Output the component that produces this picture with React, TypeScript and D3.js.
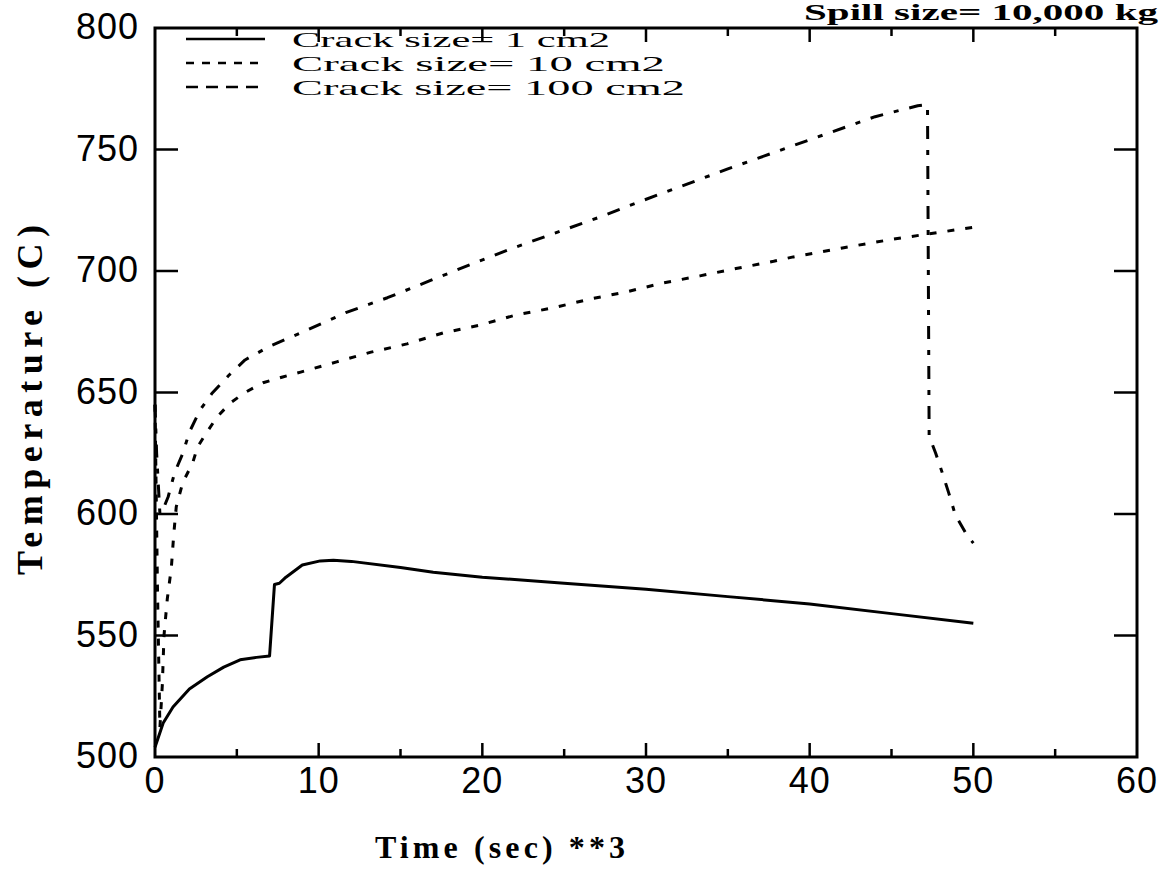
import React from 'react';
import * as d3 from 'd3';

const xTickValues = [0, 10, 20, 30, 40, 50, 60];
const xMinorValues = [5, 15, 25, 35, 45, 55];
const yTickValues = [500, 550, 600, 650, 700, 750, 800];
const yInnerTicks = [550, 600, 650, 700, 750];

// Crack size = 1 cm2 (solid)
const time1 = [0, 0.5, 1.1, 2.1, 3.2, 4.2, 5.2, 6.2, 7.0, 7.3, 7.6, 8.0, 9.0, 10.1, 10.9, 12, 15, 17, 20, 25, 30, 35, 40, 45, 50];
const temp1 = [504, 514, 520.6, 528, 533, 537, 540, 541, 541.6, 571, 571.5, 574, 579, 580.7, 581, 580.5, 578, 576, 574, 571.5, 569, 566, 563, 559, 555];

// Crack size = 10 cm2 (dotted)
const time2 = [0, 0.15, 0.3, 0.45, 0.55, 0.75, 1.0, 1.15, 1.3, 1.7, 2.3, 2.6, 3.2, 3.8, 4.6, 5.5, 6.6, 7.8, 8.9, 11.1, 13.2, 15.4, 17.6, 19.9, 22.1, 24.3, 26.6, 28.8, 31, 33.3, 35.5, 37.8, 39, 42, 45, 47, 50];
const temp2 = [645, 570, 512, 530, 550, 565, 578, 592, 603, 613, 621, 627.6, 634, 640, 645.7, 650, 654, 656.4, 658.4, 662.6, 666.6, 670, 674.5, 677.8, 682, 684.8, 688.5, 691.4, 695, 698, 701, 704, 705.8, 709.5, 713, 715, 718];

// Crack size = 100 cm2 (dashed)
const time3 = [0, 0.1, 0.3, 0.5, 0.8, 1.2, 1.7, 2.1, 2.75, 3.5, 4.5, 5.5, 7, 8.9, 11.7, 14.2, 16.8, 19.4, 21.9, 24.6, 27.1, 29.8, 35, 40, 44, 46.6, 47.2, 47.25, 47.3, 47.7, 48.1, 48.5, 48.9, 49.6, 50];
const temp3 = [645, 625, 600, 602, 607, 617, 625, 633.7, 642.8, 649.8, 657, 663.4, 669, 674.5, 683, 689, 696, 703, 709.5, 716, 722, 729, 742, 754, 763.5, 768, 768.5, 700, 632, 625, 617, 608.6, 599.6, 591.4, 588];

const seriesLabels = ['Crack size= 1 cm2', 'Crack size= 10 cm2', 'Crack size= 100 cm2'];
const seriesDash = ['none', '7 11', '13 11 5 11'];
const legendDash = ['none', '8 8', '12 8'];

export default function App() {
  const W = 1167, H = 888;
  const x = d3.scaleLinear().domain([0, 60]).range([155, 1137]);
  const y = d3.scaleLinear().domain([500, 800]).range([757, 28]);
  const line = d3.line<[number, number]>().x(d => x(d[0])).y(d => y(d[1])).curve(d3.curveLinear);
  const series = [
    time1.map((t, i) => [t, temp1[i]] as [number, number]),
    time2.map((t, i) => [t, temp2[i]] as [number, number]),
    time3.map((t, i) => [t, temp3[i]] as [number, number]),
  ];
  const [x0, x1] = x.range();
  const [y0, y1] = y.range();
  const tickFont = '"Liberation Sans", Arial, sans-serif';
  const serif = '"Liberation Serif", "Times New Roman", serif';
  const legendY = [39, 63, 87];
  const legendLen = [318, 373, 393];

  return (
    <svg width={W} height={H} viewBox={`0 0 ${W} ${H}`} style={{ position: 'absolute', left: 0, top: 0, background: '#fff' }}>
      <rect x={0} y={0} width={W} height={H} fill="#fff" />
      <text x={804} y={20} fontFamily={serif} fontWeight="bold" fontSize={23} textLength={354} lengthAdjust="spacingAndGlyphs">Spill size= 10,000 kg</text>

      {/* frame */}
      <rect x={x0} y={y1} width={x1 - x0} height={y0 - y1} fill="none" stroke="#000" strokeWidth={3} />

      {/* x ticks */}
      {xTickValues.slice(1, -1).map(v => (
        <g key={'xt' + v}>
          <line x1={x(v)} x2={x(v)} y1={y0} y2={y0 - 14} stroke="#000" strokeWidth={2.5} />
          <line x1={x(v)} x2={x(v)} y1={y1} y2={y1 + 14} stroke="#000" strokeWidth={2.5} />
        </g>
      ))}
      {xMinorValues.map(v => (
        <g key={'xm' + v}>
          <line x1={x(v)} x2={x(v)} y1={y0} y2={y0 - 8} stroke="#000" strokeWidth={2.5} />
          <line x1={x(v)} x2={x(v)} y1={y1} y2={y1 + 8} stroke="#000" strokeWidth={2.5} />
        </g>
      ))}
      {yInnerTicks.map(v => (
        <g key={'yt' + v}>
          <line x1={x0} x2={x0 + 23} y1={y(v)} y2={y(v)} stroke="#000" strokeWidth={2.5} />
          <line x1={x1} x2={x1 - 23} y1={y(v)} y2={y(v)} stroke="#000" strokeWidth={2.5} />
        </g>
      ))}

      {/* tick labels */}
      {xTickValues.map(v => (
        <text key={'xl' + v} x={x(v)} y={y0 + 36} textAnchor="middle" fontFamily={tickFont} fontSize={36} letterSpacing={1}>{v}</text>
      ))}
      {yTickValues.map(v => (
        <text key={'yl' + v} x={x0 - 16} y={y(v) + 11} textAnchor="end" fontFamily={tickFont} fontSize={36} letterSpacing={1}>{v}</text>
      ))}

      {/* axis titles */}
      <text x={375} y={858} fontFamily={serif} fontWeight="bold" fontSize={32} textLength={250} lengthAdjust="spacing">Time (sec) **3</text>
      <text transform={`translate(42, 400) rotate(-90)`} textAnchor="middle" fontFamily={serif} fontWeight="bold" fontSize={36} textLength={350} lengthAdjust="spacing">Temperature (C)</text>

      {/* series */}
      {series.map((s, i) => (
        <path key={'s' + i} d={line(s) || ''} fill="none" stroke="#000" strokeWidth={3}
          strokeDasharray={seriesDash[i] === 'none' ? undefined : seriesDash[i]} strokeLinejoin="round" />
      ))}

      {/* legend */}
      {seriesLabels.map((lab, i) => (
        <g key={'lg' + i}>
          <line x1={186} x2={265} y1={legendY[i]} y2={legendY[i]} stroke="#000" strokeWidth={2.5}
            strokeDasharray={legendDash[i] === 'none' ? undefined : legendDash[i]} />
          <text x={292} y={legendY[i] + 8} fontFamily={serif} fontSize={22} textLength={legendLen[i]} lengthAdjust="spacingAndGlyphs">{lab}</text>
        </g>
      ))}
    </svg>
  );
}
